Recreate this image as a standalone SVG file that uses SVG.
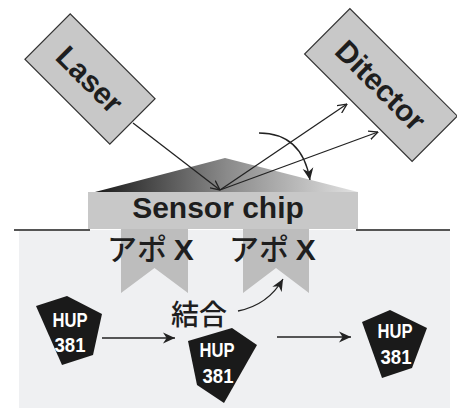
<svg xmlns="http://www.w3.org/2000/svg" width="457" height="408" viewBox="0 0 457 408">
<style>
.box{fill:#c8c8c8;stroke:#333;stroke-width:1.2}
.lbl{font-family:"Liberation Sans",Arial,sans-serif;font-weight:bold;fill:#1e1e1e;font-size:30px;text-anchor:middle}
.jp{font-family:"Noto Sans CJK JP","Noto Sans CJK SC",sans-serif;font-weight:500;fill:#1e1e1e;font-size:30px}
.xb{font-family:"Liberation Sans",Arial,sans-serif;font-weight:bold}
.hup{font-family:"Liberation Sans",Arial,sans-serif;font-weight:bold;fill:#fff;font-size:20px;text-anchor:middle}
.pent{fill:#1a1a1a}
.ln{stroke:#222;stroke-width:1.3;fill:none}
.banner{fill:#bdbdbd}
</style>
<defs>
<linearGradient id="chipGrad" x1="95" y1="0" x2="358" y2="0" gradientUnits="userSpaceOnUse">
<stop offset="0" stop-color="#1a1a1a"/>
<stop offset="0.5" stop-color="#8a8a8a"/>
<stop offset="1" stop-color="#e2e2e2"/>
</linearGradient>
<marker id="openArrow" viewBox="0 0 10 10" refX="9.5" refY="5" markerWidth="10" markerHeight="10" markerUnits="userSpaceOnUse" orient="auto">
<path d="M0,0.5 L9.5,5 L0,9.5" fill="none" stroke="#222" stroke-width="1.3"/>
</marker>
<marker id="solidArrow" viewBox="0 0 10 10" refX="10" refY="5" markerWidth="12" markerHeight="12" markerUnits="userSpaceOnUse" orient="auto">
<path d="M0,0.5 L10,5 L0,9.5 L3,5 Z" fill="#222"/>
</marker>
</defs>
<rect width="457" height="408" fill="#fff"/>
<g id="medium">
<rect x="19" y="230" width="431" height="178" fill="#eff0f2"/>
<line x1="14" y1="230" x2="90" y2="230" stroke="#555" stroke-width="2"/>
<line x1="356" y1="230" x2="450" y2="230" stroke="#555" stroke-width="2"/>
</g>
<g id="laser">
<g transform="translate(90,79) rotate(45)">
<rect class="box" x="-60" y="-32" width="120" height="64"/>
<text class="lbl" x="0" y="11">Laser</text>
</g>
</g>
<g id="detector">
<g transform="translate(381,85) rotate(45)">
<rect class="box" x="-76" y="-32" width="152" height="64"/>
<text class="lbl" x="0" y="11">Ditector</text>
</g>
</g>
<g id="sensor-chip">
<polygon points="95,192 225,158 358,192" fill="url(#chipGrad)"/>
<rect x="88" y="192" width="270" height="37" fill="#c8c8c8"/>
<text class="lbl" x="218" y="218">Sensor chip</text>
</g>
<g id="apo-x-1">
<polygon class="banner" points="121,229 188,229 188,293 154.5,268 121,293"/>
<text class="jp" x="107" y="260">アポ <tspan class="xb">X</tspan></text>
</g>
<g id="apo-x-2">
<polygon class="banner" points="243,229 309,229 309,293 276,268 243,293"/>
<text class="jp" x="229" y="260">アポ <tspan class="xb">X</tspan></text>
</g>
<g id="binding-label">
<text class="jp" x="171" y="325" style="font-size:28px">結合</text>
</g>
<g id="hup-1">
<polygon class="pent" points="36,306 67,296 102,314 93,355 62,365"/>
<text class="hup" x="70" y="327" textLength="35" lengthAdjust="spacingAndGlyphs">HUP</text>
<text class="hup" x="70" y="352" textLength="31" lengthAdjust="spacingAndGlyphs">381</text>
</g>
<g id="hup-2">
<polygon class="pent" points="188,341 232,328 257,345 224,403 197,385"/>
<text class="hup" x="217" y="357" textLength="35" lengthAdjust="spacingAndGlyphs">HUP</text>
<text class="hup" x="218" y="383" textLength="31" lengthAdjust="spacingAndGlyphs">381</text>
</g>
<g id="hup-3">
<polygon class="pent" points="362,322 390,310 427,328 412,368 382,378"/>
<text class="hup" x="395" y="338" textLength="35" lengthAdjust="spacingAndGlyphs">HUP</text>
<text class="hup" x="396" y="364" textLength="31" lengthAdjust="spacingAndGlyphs">381</text>
</g>
<g id="connectors">
<line class="ln" x1="133" y1="123" x2="220" y2="190" marker-end="url(#openArrow)"/>
<line class="ln" x1="220" y1="190" x2="347" y2="104" marker-end="url(#openArrow)"/>
<line class="ln" x1="220" y1="190" x2="378" y2="132" marker-end="url(#openArrow)"/>
<path class="ln" d="M259,133 Q302,133 310,180" marker-end="url(#solidArrow)"/>
<path class="ln" d="M238,311 Q268,305 283,279" marker-end="url(#solidArrow)"/>
<line class="ln" x1="102" y1="338" x2="175" y2="338" marker-end="url(#solidArrow)"/>
<line class="ln" x1="277" y1="337" x2="351" y2="337" marker-end="url(#solidArrow)"/>
</g>
</svg>
